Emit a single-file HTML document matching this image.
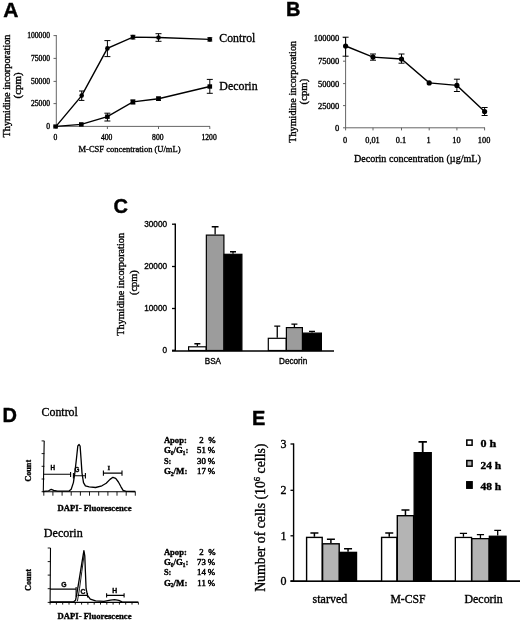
<!DOCTYPE html>
<html lang="en"><head><meta charset="utf-8"><title>Figure</title>
<style>
html,body{margin:0;padding:0;background:#fff;}
body{width:520px;height:620px;overflow:hidden;}
svg{display:block;filter:blur(0.35px);}
text{fill:#000;stroke:#000;stroke-width:0.35px;}
.t{font-family:"Liberation Serif","Times New Roman",serif;}
.s{font-family:"Liberation Sans",Arial,sans-serif;}
.b{font-weight:bold;}
.n{stroke-width:0.4px;}
</style></head><body>
<svg width="520" height="620" viewBox="0 0 520 620">
<rect width="520" height="620" fill="#fff"/>

<g id="panelA">
<text class="s b n" x="3.2" y="16.7" font-size="21" text-anchor="start">A</text>
<path d="M56.3 35V126.4H210" stroke="#555" stroke-width="0.9" fill="none"/>
<path d="M53.5 35.6H56.3" stroke="#555" stroke-width="0.9"/>
<text class="t" x="50" y="38.2" font-size="7.6" text-anchor="end">100000</text>
<path d="M53.5 58.4H56.3" stroke="#555" stroke-width="0.9"/>
<text class="t" x="50" y="61.0" font-size="7.6" text-anchor="end">75000</text>
<path d="M53.5 81.4H56.3" stroke="#555" stroke-width="0.9"/>
<text class="t" x="50" y="84.0" font-size="7.6" text-anchor="end">50000</text>
<path d="M53.5 103.6H56.3" stroke="#555" stroke-width="0.9"/>
<text class="t" x="50" y="106.19999999999999" font-size="7.6" text-anchor="end">25000</text>
<path d="M53.5 126.4H56.3" stroke="#555" stroke-width="0.9"/>
<text class="t" x="50" y="129.0" font-size="7.6" text-anchor="end">0</text>
<path d="M56 126.4V129" stroke="#555" stroke-width="0.9"/>
<text class="t" x="55.3" y="139.8" font-size="7.6" text-anchor="middle">0</text>
<path d="M107.4 126.4V129" stroke="#555" stroke-width="0.9"/>
<text class="t" x="106.7" y="139.8" font-size="7.6" text-anchor="middle">400</text>
<path d="M158.5 126.4V129" stroke="#555" stroke-width="0.9"/>
<text class="t" x="157.8" y="139.8" font-size="7.6" text-anchor="middle">800</text>
<path d="M209.8 126.4V129" stroke="#555" stroke-width="0.9"/>
<text class="t" x="209.10000000000002" y="139.8" font-size="7.6" text-anchor="middle">1200</text>
<text class="t" x="129.5" y="152" font-size="9" text-anchor="middle" textLength="102" lengthAdjust="spacingAndGlyphs">M-CSF concentration (U/mL)</text>
<text class="t" transform="translate(9.6,86) rotate(-90)" font-size="10" text-anchor="middle" textLength="103" lengthAdjust="spacingAndGlyphs">Thymidine incorporation</text>
<text class="t" transform="translate(21.3,85.5) rotate(-90)" font-size="10" text-anchor="middle" textLength="26" lengthAdjust="spacingAndGlyphs">(cpm)</text>
<polyline points="56,126.4 81.7,95.6 107.4,48.4 132.9,37.1 158.5,37.5 209.8,39.4" fill="none" stroke="#000" stroke-width="1.4"/>
<polyline points="56,126.4 81.3,124.4 107.4,116.7 132.9,101.9 158.5,98.7 209.8,86.5" fill="none" stroke="#000" stroke-width="1.4"/>
<path d="M81.7 91V100.4M79.0 91H84.4M79.0 100.4H84.4" stroke="#000" stroke-width="1" fill="none"/>
<path d="M107.4 40.6V56.6M104.4 40.6H110.4M104.4 56.6H110.4" stroke="#000" stroke-width="1" fill="none"/>
<path d="M132.9 35.3V39M130.4 35.3H135.4M130.4 39H135.4" stroke="#000" stroke-width="1" fill="none"/>
<path d="M158.5 33.7V41.3M155.5 33.7H161.5M155.5 41.3H161.5" stroke="#000" stroke-width="1" fill="none"/>
<path d="M209.8 37.8V41M207.3 37.8H212.3M207.3 41H212.3" stroke="#000" stroke-width="1" fill="none"/>
<path d="M107.4 113.2V121M104.4 113.2H110.4M104.4 121H110.4" stroke="#000" stroke-width="1" fill="none"/>
<path d="M132.9 100V104M130.4 100H135.4M130.4 104H135.4" stroke="#000" stroke-width="1" fill="none"/>
<path d="M158.5 97V100.4M156.0 97H161.0M156.0 100.4H161.0" stroke="#000" stroke-width="1" fill="none"/>
<path d="M209.8 79.4V93.3M206.8 79.4H212.8M206.8 93.3H212.8" stroke="#000" stroke-width="1" fill="none"/>
<circle cx="81.7" cy="95.6" r="2.3" fill="#000"/>
<circle cx="107.4" cy="48.4" r="2.3" fill="#000"/>
<circle cx="132.9" cy="37.1" r="2.3" fill="#000"/>
<circle cx="158.5" cy="37.5" r="2.3" fill="#000"/>
<circle cx="209.8" cy="39.4" r="2.3" fill="#000"/>
<rect x="53.3" y="124.4" width="4.6" height="4.2" fill="#000"/>
<rect x="79.0" y="122.2" width="4.6" height="4.4" fill="#000"/>
<rect x="105.10000000000001" y="114.5" width="4.6" height="4.4" fill="#000"/>
<rect x="130.6" y="99.7" width="4.6" height="4.4" fill="#000"/>
<rect x="156.2" y="96.5" width="4.6" height="4.4" fill="#000"/>
<rect x="207.5" y="84.3" width="4.6" height="4.4" fill="#000"/>
<text class="t" x="219.3" y="41.7" font-size="12.6" text-anchor="start" textLength="36" lengthAdjust="spacingAndGlyphs">Control</text>
<text class="t" x="219.3" y="90.3" font-size="12.6" text-anchor="start" textLength="38.3" lengthAdjust="spacingAndGlyphs">Decorin</text>
</g>
<g id="panelB">
<text class="s b n" x="286" y="15.8" font-size="20" text-anchor="start">B</text>
<path d="M345.6 37V127.8H485" stroke="#555" stroke-width="0.9" fill="none"/>
<path d="M343 37.6H345.6" stroke="#555" stroke-width="0.9"/>
<text class="t" x="339.2" y="40.5" font-size="8.5" text-anchor="end">100000</text>
<path d="M343 61.2H345.6" stroke="#555" stroke-width="0.9"/>
<text class="t" x="339.2" y="64.10000000000001" font-size="8.5" text-anchor="end">75000</text>
<path d="M343 83.6H345.6" stroke="#555" stroke-width="0.9"/>
<text class="t" x="339.2" y="86.5" font-size="8.5" text-anchor="end">50000</text>
<path d="M343 105.6H345.6" stroke="#555" stroke-width="0.9"/>
<text class="t" x="339.2" y="108.5" font-size="8.5" text-anchor="end">25000</text>
<path d="M343 127.8H345.6" stroke="#555" stroke-width="0.9"/>
<text class="t" x="339.2" y="130.7" font-size="8.5" text-anchor="end">0</text>
<path d="M345.6 127.8V130.4" stroke="#555" stroke-width="0.9"/>
<text class="t" x="345.1" y="142.5" font-size="8.3" text-anchor="middle">0</text>
<path d="M373 127.8V130.4" stroke="#555" stroke-width="0.9"/>
<text class="t" x="372.5" y="142.5" font-size="8.3" text-anchor="middle">0,01</text>
<path d="M401.5 127.8V130.4" stroke="#555" stroke-width="0.9"/>
<text class="t" x="401.0" y="142.5" font-size="8.3" text-anchor="middle">0.1</text>
<path d="M429.2 127.8V130.4" stroke="#555" stroke-width="0.9"/>
<text class="t" x="428.7" y="142.5" font-size="8.3" text-anchor="middle">1</text>
<path d="M456.9 127.8V130.4" stroke="#555" stroke-width="0.9"/>
<text class="t" x="456.4" y="142.5" font-size="8.3" text-anchor="middle">10</text>
<path d="M484.6 127.8V130.4" stroke="#555" stroke-width="0.9"/>
<text class="t" x="484.1" y="142.5" font-size="8.3" text-anchor="middle">100</text>
<text class="t" x="417.4" y="162" font-size="11" text-anchor="middle" textLength="127" lengthAdjust="spacingAndGlyphs">Decorin concentration (µg/mL)</text>
<text class="t" transform="translate(295.8,91.8) rotate(-90)" font-size="10" text-anchor="middle" textLength="101.7" lengthAdjust="spacingAndGlyphs">Thymidine incorporation</text>
<text class="t" transform="translate(307.2,91.6) rotate(-90)" font-size="10" text-anchor="middle" textLength="25.7" lengthAdjust="spacingAndGlyphs">(cpm)</text>
<polyline points="345.6,46 373,57.1 401.5,59 429.2,82.9 456.9,85.4 484.6,111.5" fill="none" stroke="#000" stroke-width="1.4"/>
<path d="M345.6 37.2V56.2M342.6 37.2H348.6M342.6 56.2H348.6" stroke="#000" stroke-width="1" fill="none"/>
<path d="M373 54V60.2M370 54H376M370 60.2H376" stroke="#000" stroke-width="1" fill="none"/>
<path d="M401.5 54V63.2M398.5 54H404.5M398.5 63.2H404.5" stroke="#000" stroke-width="1" fill="none"/>
<path d="M456.9 79.2V91.5M453.9 79.2H459.9M453.9 91.5H459.9" stroke="#000" stroke-width="1" fill="none"/>
<path d="M484.6 107.5V115.5M481.6 107.5H487.6M481.6 115.5H487.6" stroke="#000" stroke-width="1" fill="none"/>
<circle cx="345.6" cy="46" r="2.6" fill="#000"/>
<circle cx="373" cy="57.1" r="2.6" fill="#000"/>
<circle cx="401.5" cy="59" r="2.6" fill="#000"/>
<circle cx="429.2" cy="82.9" r="2.6" fill="#000"/>
<circle cx="456.9" cy="85.4" r="2.6" fill="#000"/>
<circle cx="484.6" cy="111.5" r="2.6" fill="#000"/>
</g>
<g id="panelC">
<text class="s b n" x="113.5" y="212.5" font-size="20" text-anchor="start">C</text>
<path d="M175.3 223.6V351" stroke="#000" stroke-width="1.4" fill="none"/>
<path d="M172 351H334" stroke="#000" stroke-width="1.6" fill="none"/>
<path d="M172 224.2H175" stroke="#000" stroke-width="1.3"/>
<text class="s" x="167" y="227.1" font-size="8.2" text-anchor="end">30000</text>
<path d="M172 266.5H175" stroke="#000" stroke-width="1.3"/>
<text class="s" x="167" y="269.4" font-size="8.2" text-anchor="end">20000</text>
<path d="M172 308.5H175" stroke="#000" stroke-width="1.3"/>
<text class="s" x="167" y="311.4" font-size="8.2" text-anchor="end">10000</text>
<path d="M172 350.3H175" stroke="#000" stroke-width="1.3"/>
<text class="s" x="167" y="353.2" font-size="8.2" text-anchor="end">0</text>
<text class="t" transform="translate(124,284.3) rotate(-90)" font-size="10" text-anchor="middle" textLength="102.7" lengthAdjust="spacingAndGlyphs">Thymidine incorporation</text>
<text class="t" transform="translate(136.8,282.6) rotate(-90)" font-size="10" text-anchor="middle" textLength="24.8" lengthAdjust="spacingAndGlyphs">(cpm)</text>
<path d="M197.375 346.2V343.75M194.375 343.75H200.375" stroke="#000" stroke-width="1.3" fill="none"/><rect x="188.60" y="346.80" width="17.55" height="3.70" fill="#fff" stroke="#000" stroke-width="1.2"/>
<path d="M215.125 234.5V226.75M211.725 226.75H218.525" stroke="#000" stroke-width="1.3" fill="none"/><rect x="206.35" y="235.10" width="17.55" height="115.40" fill="#9c9c9c" stroke="#000" stroke-width="1.2"/>
<path d="M233.0 253.7V251.75M230.0 251.75H236.0" stroke="#000" stroke-width="1.3" fill="none"/><rect x="224.10" y="254.30" width="17.80" height="96.20" fill="#000" stroke="#000" stroke-width="1.2"/>
<path d="M277.25 337.7V326.2M274.25 326.2H280.25" stroke="#000" stroke-width="1.3" fill="none"/><rect x="268.30" y="338.30" width="17.90" height="12.20" fill="#fff" stroke="#000" stroke-width="1.2"/>
<path d="M294.4 327V324.2M291.4 324.2H297.4" stroke="#000" stroke-width="1.3" fill="none"/><rect x="286.40" y="327.60" width="16.00" height="22.90" fill="#9c9c9c" stroke="#000" stroke-width="1.2"/>
<path d="M312.0 332.5V331.3M309.0 331.3H315.0" stroke="#000" stroke-width="1.3" fill="none"/><rect x="302.60" y="333.10" width="18.80" height="17.40" fill="#000" stroke="#000" stroke-width="1.2"/>
<text class="s" x="212.9" y="363.6" font-size="8.4" text-anchor="middle" textLength="16.2" lengthAdjust="spacingAndGlyphs">BSA</text>
<text class="s" x="293.1" y="363.6" font-size="8.4" text-anchor="middle" textLength="28.2" lengthAdjust="spacingAndGlyphs">Decorin</text>
</g>
<g id="panelD">
<text class="s b n" x="2.4" y="422.2" font-size="20" text-anchor="start">D</text>
<text class="t" x="41.5" y="415.6" font-size="12.4" text-anchor="start" textLength="36.4" lengthAdjust="spacingAndGlyphs">Control</text>
<text class="t" x="43.8" y="536.5" font-size="12.4" text-anchor="start" textLength="39" lengthAdjust="spacingAndGlyphs">Decorin</text>
<path d="M44.2 440.9 L43.3 491.7 L135.3 491.7" fill="none" stroke="#000" stroke-width="1.1"/>
<path d="M41.6 440.9h2.8M41.6 453.6h2.8M41.6 466.3h2.8M41.6 479.0h2.8M41.6 491.7h2.8M43.8 491.7v4M52.9 491.7v4M62.1 491.7v4M71.2 491.7v4M80.4 491.7v4M89.5 491.7v4M98.7 491.7v4M107.9 491.7v4M117.0 491.7v4M126.2 491.7v4M135.3 491.7v4" stroke="#000" stroke-width="0.9" fill="none"/>
<path d="M43.8 491.3 L48.6 490.8 L51.2 489.4 L53.7 490.4 L57.5 491.1 L69.1 491.1 L71.2 489.2 L73.4 482.6 L74.8 473.1 L76.5 458.3 L77.8 446.0 L79.1 444.5 L80.1 446.0 L81.0 458.3 L82.0 473.1 L83.5 482.6 L85.4 485.8 L89.2 486.8 L95.6 487.5 L101.9 485.8 L106.2 483.2 L110.0 479.4 L112.9 477.3 L115.7 478.4 L118.4 482.0 L121.0 486.8 L123.1 490.4 L126.2 491.3 L135.3 491.5" fill="none" stroke="#000" stroke-width="1.3" stroke-linejoin="round"/>
<path d="M43.8 474.3 L71.2 474.3M70.6 472.0 L70.6 476.9M73.4 475.8 L85.4 475.8M73.4 473.1 L73.4 478.6M85.4 473.1 L85.4 478.6M103.4 473.1 L122.0 473.1M103.4 470.5 L103.4 475.8M122.0 470.5 L122.0 475.8" fill="none" stroke="#000" stroke-width="1.1"/>
<text class="s b" x="52.8" y="470.1" font-size="6.3" text-anchor="middle">H</text>
<text class="s b" x="77.0" y="472.2" font-size="6.3" text-anchor="middle">G</text>
<text class="t b" x="108.7" y="469.5" font-size="6.6" text-anchor="middle">I</text>
<text class="t b" transform="translate(30.6,470.8) rotate(-90)" font-size="8.2" text-anchor="middle" textLength="21.9" lengthAdjust="spacingAndGlyphs">Count</text>
<text class="t b" x="57.6" y="510.7" font-size="8.8" text-anchor="start" textLength="73.9" lengthAdjust="spacingAndGlyphs">DAPI- Fluorescence</text>
<path d="M50.5 548.0 L50.1 602.4 L138.3 602.4" fill="none" stroke="#000" stroke-width="1.1"/>
<path d="M47.699999999999996 548.0h2.8M47.699999999999996 561.6h2.8M47.699999999999996 575.1h2.8M47.699999999999996 588.7h2.8M47.699999999999996 602.4h2.8M50.1 602.4v2.2M56.4 602.4v2.2M62.7 602.4v2.2M69.0 602.4v2.2M75.3 602.4v2.2M81.6 602.4v2.2M87.9 602.4v2.2M94.2 602.4v2.2M100.5 602.4v2.2M106.8 602.4v2.2M113.1 602.4v2.2M119.4 602.4v2.2M125.7 602.4v2.2M132.0 602.4v2.2M138.4 602.4v2.2" stroke="#000" stroke-width="0.9" fill="none"/>
<path d="M50.1 602.0 L73.4 602.0 L75.5 600.3 L77.0 592.9 L79.1 580.2 L81.8 563.3 L83.9 550.6 L84.8 555.9 L85.4 571.7 L86.1 588.7 L87.5 595.4 L90.3 599.2 L95.6 600.9 L104.0 601.3 L110.4 600.1 L114.6 599.7 L118.8 600.3 L122.0 601.8 L138.3 602.2" fill="none" stroke="#000" stroke-width="1.3" stroke-linejoin="round"/>
<path d="M77.4 601.3 L79.5 588.7 L81.8 571.7 L84.4 552.7" fill="none" stroke="#000" stroke-width="0.9"/>
<path d="M50.1 589.1 L76.1 589.1M76.1 587.0 L76.1 596.7M77.6 595.4 L87.5 595.4M87.5 592.9 L87.5 597.5M106.6 595.4 L124.1 595.4M106.6 593.3 L106.6 597.5M124.1 593.3 L124.1 597.5" fill="none" stroke="#000" stroke-width="1.1"/>
<text class="s b" x="63.8" y="587.4" font-size="6.8" text-anchor="middle">G</text>
<text class="s b" x="82.9" y="594.2" font-size="6.8" text-anchor="middle">C</text>
<text class="s b" x="114.6" y="593.1" font-size="6.8" text-anchor="middle">H</text>
<text class="t b" transform="translate(30.6,580) rotate(-90)" font-size="8.2" text-anchor="middle" textLength="21.9" lengthAdjust="spacingAndGlyphs">Count</text>
<text class="t b" x="57.6" y="619.3" font-size="8.8" text-anchor="start" textLength="73.9" lengthAdjust="spacingAndGlyphs">DAPI- Fluorescence</text>
<text class="t b" x="163.9" y="442.8" font-size="8.4" text-anchor="start" textLength="22.9" lengthAdjust="spacingAndGlyphs">Apop:</text>
<text class="t" x="203.6" y="442.8" font-size="8.8" text-anchor="end" style="stroke-width:0.5px">2</text>
<text class="t" x="215.6" y="442.8" font-size="8.8" text-anchor="end" style="stroke-width:0.5px">%</text>
<text class="t b" x="163.9" y="453.2" font-size="8.4" text-anchor="start" textLength="24.5" lengthAdjust="spacingAndGlyphs">G<tspan font-size="5.2" dy="1.6">0</tspan><tspan dy="-1.6">/G</tspan><tspan font-size="5.2" dy="1.6">1</tspan><tspan dy="-1.6">:</tspan></text>
<text class="t" x="205.8" y="453.2" font-size="8.8" text-anchor="end" style="stroke-width:0.5px">51</text>
<text class="t" x="215.2" y="453.2" font-size="8.8" text-anchor="end" style="stroke-width:0.5px">%</text>
<text class="t b" x="163.9" y="463.7" font-size="8.4" text-anchor="start" textLength="7.5" lengthAdjust="spacingAndGlyphs">S:</text>
<text class="t" x="205.8" y="463.7" font-size="8.8" text-anchor="end" style="stroke-width:0.5px">30</text>
<text class="t" x="215.2" y="463.7" font-size="8.8" text-anchor="end" style="stroke-width:0.5px">%</text>
<text class="t b" x="163.9" y="474.2" font-size="8.4" text-anchor="start" textLength="23.5" lengthAdjust="spacingAndGlyphs">G<tspan font-size="5.2" dy="1.6">2</tspan><tspan dy="-1.6">/M:</tspan></text>
<text class="t" x="205.8" y="474.2" font-size="8.8" text-anchor="end" style="stroke-width:0.5px">17</text>
<text class="t" x="215.2" y="474.2" font-size="8.8" text-anchor="end" style="stroke-width:0.5px">%</text>
<text class="t b" x="163.9" y="554.5" font-size="8.4" text-anchor="start" textLength="22.9" lengthAdjust="spacingAndGlyphs">Apop:</text>
<text class="t" x="203.6" y="554.5" font-size="8.8" text-anchor="end" style="stroke-width:0.5px">2</text>
<text class="t" x="215.6" y="554.5" font-size="8.8" text-anchor="end" style="stroke-width:0.5px">%</text>
<text class="t b" x="163.9" y="564.9" font-size="8.4" text-anchor="start" textLength="24.5" lengthAdjust="spacingAndGlyphs">G<tspan font-size="5.2" dy="1.6">0</tspan><tspan dy="-1.6">/G</tspan><tspan font-size="5.2" dy="1.6">1</tspan><tspan dy="-1.6">:</tspan></text>
<text class="t" x="205.8" y="564.9" font-size="8.8" text-anchor="end" style="stroke-width:0.5px">73</text>
<text class="t" x="215.2" y="564.9" font-size="8.8" text-anchor="end" style="stroke-width:0.5px">%</text>
<text class="t b" x="163.9" y="575.3" font-size="8.4" text-anchor="start" textLength="7.5" lengthAdjust="spacingAndGlyphs">S:</text>
<text class="t" x="205.8" y="575.3" font-size="8.8" text-anchor="end" style="stroke-width:0.5px">14</text>
<text class="t" x="215.2" y="575.3" font-size="8.8" text-anchor="end" style="stroke-width:0.5px">%</text>
<text class="t b" x="163.9" y="585.8" font-size="8.4" text-anchor="start" textLength="23.5" lengthAdjust="spacingAndGlyphs">G<tspan font-size="5.2" dy="1.6">2</tspan><tspan dy="-1.6">/M:</tspan></text>
<text class="t" x="205.8" y="585.8" font-size="8.8" text-anchor="end" style="stroke-width:0.5px">11</text>
<text class="t" x="215.2" y="585.8" font-size="8.8" text-anchor="end" style="stroke-width:0.5px">%</text>
</g>
<g id="panelE">
<text class="s b n" x="252" y="424.5" font-size="20" text-anchor="start">E</text>
<path d="M293.6 443.4V581.8" stroke="#000" stroke-width="1.4" fill="none"/>
<path d="M290.5 581.1H520" stroke="#000" stroke-width="1.6" fill="none"/>
<path d="M290.5 444H293.6" stroke="#000" stroke-width="1.3"/>
<text class="t" x="286.4" y="448" font-size="12" text-anchor="end">3</text>
<path d="M290.5 490.3H293.6" stroke="#000" stroke-width="1.3"/>
<text class="t" x="286.4" y="494.3" font-size="12" text-anchor="end">2</text>
<path d="M290.5 535.8H293.6" stroke="#000" stroke-width="1.3"/>
<text class="t" x="286.4" y="539.8" font-size="12" text-anchor="end">1</text>
<path d="M290.5 581.1H293.6" stroke="#000" stroke-width="1.3"/>
<text class="t" x="286.4" y="585.1" font-size="12" text-anchor="end">0</text>
<text class="t" transform="translate(264.7,517.7) rotate(-90)" font-size="13.6" text-anchor="middle" textLength="148.3" lengthAdjust="spacingAndGlyphs">Number of cells (10<tspan font-size="8.5" dy="-4.5">6</tspan><tspan dy="4.5"> cells)</tspan></text>
<path d="M314.4 536.7V533M310.4 533H318.4" stroke="#000" stroke-width="1.5" fill="none"/><rect x="306.60" y="537.40" width="15.60" height="43.70" fill="#fff" stroke="#000" stroke-width="1.4"/>
<path d="M330.9 543.1V539.3M326.9 539.3H334.9" stroke="#000" stroke-width="1.5" fill="none"/><rect x="322.60" y="543.80" width="16.60" height="37.30" fill="#b4b4b4" stroke="#000" stroke-width="1.4"/>
<path d="M348.04999999999995 551.7V548.8M344.04999999999995 548.8H352.04999999999995" stroke="#000" stroke-width="1.5" fill="none"/><rect x="339.60" y="552.40" width="16.90" height="28.70" fill="#000" stroke="#000" stroke-width="1.4"/>
<path d="M389.25 536.7V533M385.25 533H393.25" stroke="#000" stroke-width="1.5" fill="none"/><rect x="381.60" y="537.40" width="15.30" height="43.70" fill="#fff" stroke="#000" stroke-width="1.4"/>
<path d="M405.45000000000005 515V510M401.45000000000005 510H409.45000000000005" stroke="#000" stroke-width="1.5" fill="none"/><rect x="397.30" y="515.70" width="16.30" height="65.40" fill="#b4b4b4" stroke="#000" stroke-width="1.4"/>
<path d="M422.7 452V441.9M418.5 441.9H426.9" stroke="#000" stroke-width="1.8" fill="none"/><rect x="414.15" y="452.65" width="17.10" height="128.45" fill="#000" stroke="#000" stroke-width="1.3"/>
<path d="M463.45 536.8V533.4M459.84999999999997 533.4H467.05" stroke="#000" stroke-width="1.3" fill="none"/><rect x="455.35" y="537.45" width="16.20" height="43.65" fill="#fff" stroke="#000" stroke-width="1.3"/>
<path d="M480.45 538V534.7M476.84999999999997 534.7H484.05" stroke="#000" stroke-width="1.3" fill="none"/><rect x="471.85" y="538.65" width="17.20" height="42.45" fill="#b4b4b4" stroke="#000" stroke-width="1.3"/>
<path d="M497.7 535.6V530.4M494.3 530.4H501.09999999999997" stroke="#000" stroke-width="1.3" fill="none"/><rect x="489.35" y="536.25" width="16.70" height="44.85" fill="#000" stroke="#000" stroke-width="1.3"/>
<text class="t" x="312.6" y="602.6" font-size="11.7" text-anchor="start" textLength="34.6" lengthAdjust="spacingAndGlyphs">starved</text>
<text class="t" x="390.4" y="602.6" font-size="11.7" text-anchor="start" textLength="35.2" lengthAdjust="spacingAndGlyphs">M-CSF</text>
<text class="t" x="464.5" y="602.9" font-size="11.7" text-anchor="start" textLength="38.3" lengthAdjust="spacingAndGlyphs">Decorin</text>
<rect x="466.8" y="440.05" width="5.3" height="5.15" fill="#fff" stroke="#000" stroke-width="1.5"/>
<text class="t b" x="480.5" y="447" font-size="10.4" text-anchor="start" textLength="15.75" lengthAdjust="spacingAndGlyphs">0 h</text>
<rect x="466.8" y="460.55" width="5.3" height="5.65" fill="#b4b4b4" stroke="#000" stroke-width="1.5"/>
<text class="t b" x="480.5" y="468.75" font-size="10.4" text-anchor="start" textLength="20.75" lengthAdjust="spacingAndGlyphs">24 h</text>
<rect x="466.8" y="481.8" width="5.3" height="6.4" fill="#000" stroke="#000" stroke-width="1.5"/>
<text class="t b" x="480.5" y="490" font-size="10.4" text-anchor="start" textLength="20.75" lengthAdjust="spacingAndGlyphs">48 h</text>
</g>
</svg></body></html>
